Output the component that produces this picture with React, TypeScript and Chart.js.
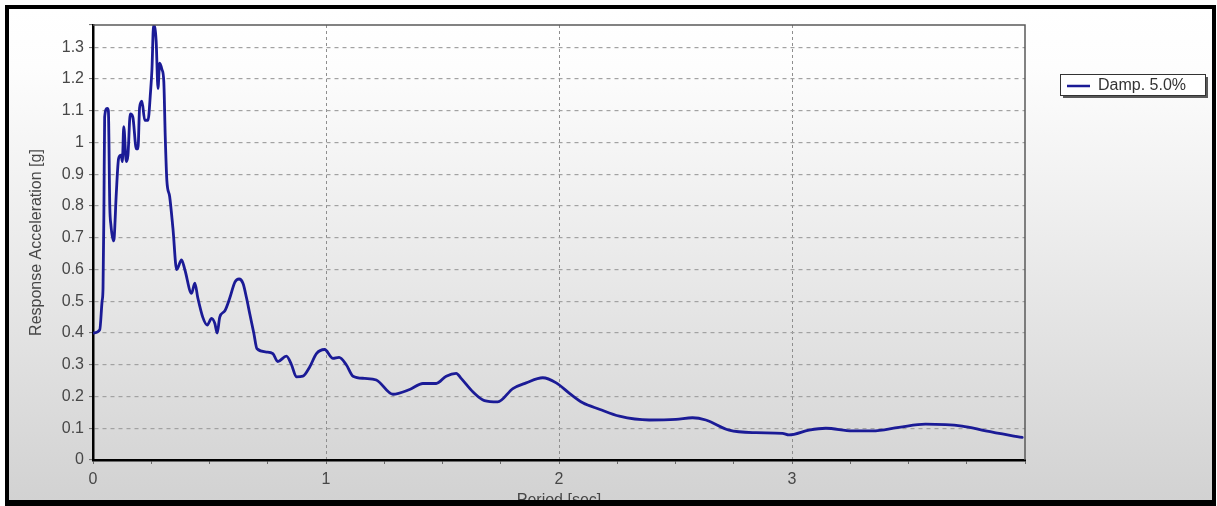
import React, { useEffect, useRef } from 'react';
import { Chart, registerables } from 'chart.js';

Chart.register(...registerables);

const seriesLabel = 'Damp. 5.0%';
const xTitle = 'Period [sec]';
const yTitle = 'Response Acceleration [g]';

const periods = [
  0.004, 0.029, 0.039, 0.043, 0.047, 0.050, 0.061, 0.066, 0.072, 0.077,
  0.088, 0.091, 0.100, 0.110, 0.121, 0.126, 0.132, 0.143, 0.150, 0.160,
  0.171, 0.186, 0.193, 0.200, 0.210, 0.222, 0.236, 0.247, 0.253, 0.260,
  0.271, 0.279, 0.286, 0.296, 0.304, 0.310, 0.317, 0.329, 0.343, 0.359,
  0.380, 0.394, 0.423, 0.437, 0.450, 0.471, 0.490, 0.509, 0.523, 0.533,
  0.544, 0.566, 0.587, 0.609, 0.627, 0.644, 0.659, 0.673, 0.690, 0.704,
  0.745, 0.772, 0.793, 0.830, 0.852, 0.873, 0.901, 0.930, 0.959, 0.994,
  1.030, 1.056, 1.087, 1.116, 1.166, 1.216, 1.287, 1.359, 1.416, 1.473,
  1.516, 1.559, 1.580, 1.630, 1.680, 1.737, 1.802, 1.859, 1.930, 1.988,
  2.045, 2.102, 2.173, 2.259, 2.387, 2.502, 2.573, 2.630, 2.730, 2.845,
  2.959, 2.987, 3.073, 3.145, 3.259, 3.345, 3.459, 3.573, 3.730, 3.831, 3.988,
];

const accel = [
  0.40, 0.41, 0.50, 0.54, 0.80, 1.08, 1.107, 1.10, 0.80, 0.74,
  0.69, 0.70, 0.84, 0.95, 0.96, 0.94, 1.05, 0.94, 0.96, 1.09,
  1.08, 0.98, 0.98, 1.11, 1.13, 1.07, 1.07, 1.16, 1.23, 1.37,
  1.32, 1.17, 1.25, 1.23, 1.19, 1.02, 0.88, 0.83, 0.73, 0.60,
  0.63, 0.60, 0.525, 0.557, 0.51, 0.45, 0.425, 0.446, 0.43, 0.40,
  0.45, 0.47, 0.51, 0.56, 0.57, 0.556, 0.51, 0.46, 0.40, 0.35,
  0.34, 0.335, 0.31, 0.327, 0.30, 0.262, 0.264, 0.293, 0.335, 0.348,
  0.32, 0.323, 0.30, 0.264, 0.257, 0.252, 0.207, 0.222, 0.241, 0.241,
  0.264, 0.273, 0.257, 0.215, 0.187, 0.183, 0.225, 0.243, 0.259, 0.243,
  0.21, 0.18, 0.16, 0.138, 0.126, 0.128, 0.133, 0.126, 0.094, 0.086,
  0.084, 0.079, 0.094, 0.10, 0.092, 0.092, 0.103, 0.113, 0.107, 0.092, 0.071,
];

const xMin = 0;
const xMax = 4;
const xStep = 0.25;
const yMin = 0;
const yMax = 1.37;
const yStep = 0.1;

const FONT = "'Liberation Sans', Arial, sans-serif";
const LINE_COLOR = '#1b1b96';
const TEXT_COLOR = '#474747';

const W = 1217;
const H = 506;

const panelPlugin = {
  id: 'panel',
  beforeDraw(chart: any) {
    const ctx = chart.ctx;
    ctx.save();
    ctx.fillStyle = '#ffffff';
    ctx.fillRect(0, 0, W, H);
    const g = ctx.createLinearGradient(0, 9, 0, 500);
    g.addColorStop(0, '#ffffff');
    g.addColorStop(0.12, '#fdfdfd');
    g.addColorStop(1, '#d2d2d2');
    ctx.fillStyle = g;
    ctx.fillRect(9, 9, 1203, 491);
    ctx.restore();
  },
  afterDatasetsDraw(chart: any) {
    const { ctx, chartArea } = chart;
    ctx.save();
    ctx.strokeStyle = '#5a5a5a';
    ctx.lineWidth = 1.5;
    ctx.beginPath();
    ctx.moveTo(chartArea.left, chartArea.top);
    ctx.lineTo(chartArea.right, chartArea.top);
    ctx.lineTo(chartArea.right, chartArea.bottom);
    ctx.stroke();
    ctx.restore();
  },
  afterDraw(chart: any) {
    const ctx = chart.ctx;
    ctx.save();
    // outer black frame
    ctx.fillStyle = '#000000';
    ctx.fillRect(5, 5, 1211, 4);
    ctx.fillRect(5, 5, 4, 501);
    ctx.fillRect(1212, 5, 4, 501);
    ctx.fillRect(5, 500, 1211, 6);
    // custom legend
    const ds = chart.data.datasets[0];
    const bx = 1060, by = 74, bw = 145, bh = 21;
    ctx.fillStyle = 'rgba(60,60,60,0.85)';
    ctx.fillRect(bx + 3, by + 3, bw, bh);
    ctx.fillStyle = '#ffffff';
    ctx.fillRect(bx, by, bw, bh);
    ctx.strokeStyle = '#333333';
    ctx.lineWidth = 1;
    ctx.strokeRect(bx + 0.5, by + 0.5, bw, bh);
    ctx.strokeStyle = ds.borderColor;
    ctx.lineWidth = 2.5;
    ctx.beginPath();
    ctx.moveTo(bx + 7, by + 12);
    ctx.lineTo(bx + 30, by + 12);
    ctx.stroke();
    ctx.fillStyle = '#333333';
    ctx.font = `16px ${FONT}`;
    ctx.textBaseline = 'middle';
    ctx.textAlign = 'left';
    ctx.fillText(ds.label, bx + 38, by + 12);
    ctx.restore();
  },
};

function fmt(v: number) {
  return String(Number(v.toFixed(2)));
}

export default function App() {
  const canvasRef = useRef<HTMLCanvasElement | null>(null);

  useEffect(() => {
    document.body.style.margin = '0';
    const canvas = canvasRef.current;
    if (!canvas) return;
    const points = periods.map((p, i) => ({ x: p, y: accel[i] }));
    const chart = new Chart(canvas, {
      type: 'line',
      data: {
        datasets: [
          {
            label: seriesLabel,
            data: points,
            borderColor: LINE_COLOR,
            borderWidth: 2.8,
            pointRadius: 0,
            cubicInterpolationMode: 'monotone',
            borderJoinStyle: 'round',
            borderCapStyle: 'round',
            fill: false,
          },
        ],
      },
      options: {
        responsive: false,
        animation: false,
        devicePixelRatio: 1,
        layout: { padding: { left: 0, top: 25, right: 192, bottom: 0 } },
        plugins: {
          legend: { display: false },
          tooltip: { enabled: false },
        },
        scales: {
          x: {
            type: 'linear',
            min: xMin,
            max: xMax,
            afterFit: (s: any) => {
              s.height = 46;
            },
            ticks: {
              stepSize: xStep,
              autoSkip: false,
              maxRotation: 0,
              padding: 6,
              color: TEXT_COLOR,
              font: { family: FONT, size: 16 },
              callback: (v: any) => {
                const n = Number(v);
                return Math.abs(n - Math.round(n)) < 1e-6 && n < xMax - 0.01 ? fmt(n) : '';
              },
            },
            grid: {
              color: (c: any) => {
                const v = c.tick ? c.tick.value : 0;
                return Math.abs(v - Math.round(v)) < 1e-6 && v > 0.01 && v < xMax - 0.01
                  ? '#8e8e8e'
                  : 'rgba(0,0,0,0)';
              },
              lineWidth: 1,
              tickLength: 4,
              tickColor: '#6a6a6a',
              tickWidth: 1,
            },
            border: { display: true, color: '#000000', width: 2.5, dash: [3, 3] },
            title: {
              display: true,
              text: xTitle,
              color: TEXT_COLOR,
              font: { family: FONT, size: 16 },
              padding: { top: 0, bottom: -4 },
            },
          },
          y: {
            type: 'linear',
            min: yMin,
            max: yMax,
            afterFit: (s: any) => {
              s.width = 93;
            },
            ticks: {
              stepSize: yStep,
              autoSkip: false,
              padding: 5,
              color: TEXT_COLOR,
              font: { family: FONT, size: 16 },
              callback: (v: any) => {
                const n = Number(v);
                return n > yMax - 0.03 ? '' : fmt(n);
              },
            },
            grid: {
              color: (c: any) => {
                const v = c.tick ? c.tick.value : 0;
                return v > 0.05 && v < yMax - 0.03 ? '#a2a2a2' : 'rgba(0,0,0,0)';
              },
              lineWidth: 1.2,
              tickLength: 4,
              tickColor: '#6a6a6a',
              tickWidth: 1,
            },
            border: { display: true, color: '#000000', width: 2.5, dash: [4, 4] },
            title: {
              display: true,
              text: yTitle,
              color: TEXT_COLOR,
              font: { family: FONT, size: 16 },
              padding: { top: 27, bottom: 0 },
            },
          },
        },
      },
      plugins: [panelPlugin],
    });
    return () => {
      chart.destroy();
    };
  }, []);

  return (
    <div style={{ position: 'fixed', left: 0, top: 0, width: W, height: H }}>
      <canvas ref={canvasRef} width={W} height={H} style={{ display: 'block', width: W, height: H }} />
    </div>
  );
}
